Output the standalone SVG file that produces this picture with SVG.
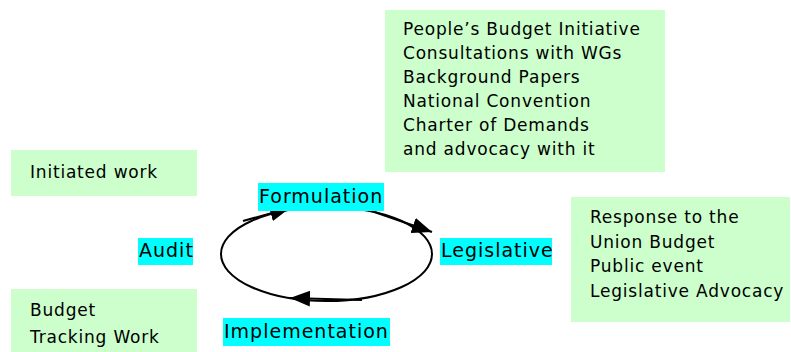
<svg xmlns="http://www.w3.org/2000/svg" width="791" height="352" viewBox="0 0 791 352">
<style>
.box{fill:#ccffcc}
.hl{fill:#00ffff}
.t{font-family:"DejaVu Sans",Verdana,sans-serif;font-size:17px;letter-spacing:0.8px;fill:#000}
.lbl{font-family:"DejaVu Sans",Verdana,sans-serif;font-size:19px;letter-spacing:1px;fill:#000}
.c{fill:none;stroke:#000;stroke-width:2}
</style>
<defs>
<marker id="ah" markerUnits="userSpaceOnUse" markerWidth="22" markerHeight="16" refX="20" refY="8" orient="auto">
<path d="M0,0 L20,8 L0,16 Z" fill="#000"/>
</marker>
</defs>
<rect width="791" height="352" fill="#fff"/>
<g id="node-formulation-notes">
<rect class="box" x="385" y="10" width="280" height="162"/>
<text class="t" x="403" y="35">People’s Budget Initiative</text>
<text class="t" x="403" y="59">Consultations with WGs</text>
<text class="t" x="403" y="83">Background Papers</text>
<text class="t" x="403" y="107">National Convention</text>
<text class="t" x="403" y="131">Charter of Demands</text>
<text class="t" x="403" y="155">and advocacy with it</text>
</g>
<g id="node-initiated">
<rect class="box" x="11" y="150" width="186" height="46"/>
<text class="t" x="30" y="178">Initiated work</text>
</g>
<g id="node-tracking">
<rect class="box" x="11" y="289" width="186" height="63"/>
<text class="t" x="30" y="316">Budget</text>
<text class="t" x="30" y="343">Tracking Work</text>
</g>
<g id="node-legislative-notes">
<rect class="box" x="571" y="197" width="219" height="125"/>
<text class="t" x="590" y="223">Response to the</text>
<text class="t" x="590" y="248">Union Budget</text>
<text class="t" x="590" y="272">Public event</text>
<text class="t" x="590" y="297">Legislative Advocacy</text>
</g>
<g id="connectors">
<ellipse class="c" cx="326.5" cy="254" rx="105.5" ry="47"/>
<line class="c" x1="243" y1="221" x2="290" y2="208" marker-end="url(#ah)"/>
<line class="c" x1="360" y1="207" x2="432" y2="232" marker-end="url(#ah)"/>
<line class="c" x1="362" y1="300" x2="290" y2="298" marker-end="url(#ah)"/>
</g>
<g id="node-formulation">
<rect class="hl" x="258" y="183" width="126" height="28"/>
<text class="lbl" x="259" y="203">Formulation</text>
</g>
<g id="node-legislative">
<rect class="hl" x="440" y="238" width="112" height="27"/>
<text class="lbl" x="441" y="257">Legislative</text>
</g>
<g id="node-implementation">
<rect class="hl" x="223" y="318" width="167" height="28"/>
<text class="lbl" x="224" y="338">Implementation</text>
</g>
<g id="node-audit">
<rect class="hl" x="138" y="238" width="55" height="27"/>
<text class="lbl" x="139" y="257">Audit</text>
</g>
</svg>
